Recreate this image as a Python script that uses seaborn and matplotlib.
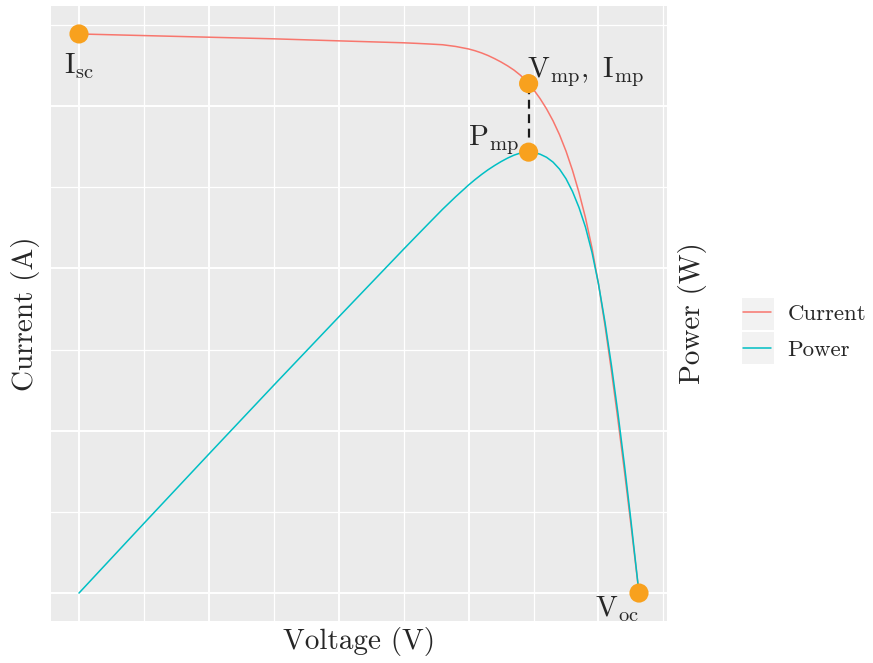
import matplotlib
matplotlib.use("Agg")
import matplotlib.pyplot as plt
import pandas as pd
import seaborn as sns
from matplotlib.patches import Rectangle

# I-V sweep of the module (voltage in V, current in A, power in W)
voltage = [0, 5, 10, 15, 20, 25, 26, 27, 28, 29, 30, 30.5, 31, 31.5, 32, 32.5,
           33, 33.5, 34, 34.62, 35, 35.5, 36, 36.5, 37, 37.5, 38, 38.5, 39,
           39.5, 40, 40.5, 41, 41.5, 42, 42.5, 43.12]
current = [6.89, 6.87, 6.85, 6.83, 6.805, 6.781, 6.774, 6.766, 6.757, 6.736,
           6.705, 6.683, 6.656, 6.624, 6.586, 6.544, 6.497, 6.444, 6.380, 6.278,
           6.205, 6.094, 5.967, 5.820, 5.648, 5.446, 5.209, 4.936, 4.624, 4.252,
           3.810, 3.298, 2.736, 2.134, 1.501, 0.839, 0.0]
power = [0, 34.35, 68.5, 102.45, 136.1, 169.53, 176.12, 182.68, 189.20, 195.34,
         201.15, 203.83, 206.34, 208.66, 210.75, 212.68, 214.40, 215.87, 216.92,
         217.34, 217.18, 216.34, 214.81, 212.43, 208.98, 204.23, 197.94, 190.04,
         180.34, 167.95, 152.40, 133.57, 112.18, 88.56, 63.04, 35.66, 0.0]
series_names = ["Current", "Power"]

# characteristic points
v_oc = 43.12
i_sc = 6.89
v_mp = 34.62
i_mp = 6.278
p_mp = 217.34
point_labels = [r"$\mathrm{I_{sc}}$", r"$\mathrm{V_{mp},\ I_{mp}}$",
                r"$\mathrm{P_{mp}}$", r"$\mathrm{V_{oc}}$"]

# power shares the current axis through a secondary scale (W per A)
power_scale = 40.0

sns.set_theme(style="darkgrid")
plt.rcParams["font.family"] = "serif"
plt.rcParams["font.serif"] = ["cmr10"]
plt.rcParams["mathtext.fontset"] = "cm"
plt.rcParams["axes.formatter.use_mathtext"] = True

n = len(voltage)
df = pd.DataFrame({
    "Voltage": voltage + voltage,
    "Value": current + [p / power_scale for p in power],
    "Quantity": [series_names[0]] * n + [series_names[1]] * n,
})

W, H = 873, 663
fig = plt.figure(figsize=(W / 100, H / 100), dpi=100)
ax = fig.add_axes([51 / W, 42 / H, 616 / W, 615 / H])
ax.set_facecolor("#EBEBEB")

palette = {series_names[0]: "#F8766D", series_names[1]: "#00BFC4"}
sns.lineplot(data=df, x="Voltage", y="Value", hue="Quantity",
             hue_order=series_names, palette=palette, linewidth=1.1,
             estimator=None, sort=False, ax=ax, zorder=3)

# dashed link between the maximum power point on both curves
ax.plot([v_mp, v_mp], [p_mp / power_scale, i_mp], color="#1A1A1A",
        linewidth=1.6, linestyle=(0, (4, 2.5)), zorder=4)

px = [0, v_mp, v_mp, v_oc]
py = [i_sc, i_mp, p_mp / power_scale, 0]
sns.scatterplot(x=px, y=py, color="#F8A11E", s=190, edgecolor="none",
                zorder=5, legend=False, ax=ax)

label_fs = 21
ax.annotate(point_labels[0], (px[0], py[0]), xytext=(0, -13),
            textcoords="offset points", ha="center", va="top", fontsize=label_fs)
ax.annotate(point_labels[1], (px[1], py[1]), xytext=(-1, 5),
            textcoords="offset points", ha="left", va="baseline", fontsize=label_fs)
ax.annotate(point_labels[2], (px[2], py[2]), xytext=(-7, 5),
            textcoords="offset points", ha="right", va="baseline", fontsize=label_fs)
ax.annotate(point_labels[3], (px[3], py[3]), xytext=(0, -1),
            textcoords="offset points", ha="right", va="top", fontsize=label_fs)

xpad = 0.05 * v_oc
ypad = 0.05 * i_sc
ax.set_xlim(-xpad, v_oc + xpad)
ax.set_ylim(-ypad, i_sc + ypad)

ax.set_xticks([0, 10, 20, 30, 40])
ax.set_xticks([5, 15, 25, 35, 45], minor=True)
ax.set_yticks([0, 2, 4, 6])
ax.set_yticks([1, 3, 5, 7], minor=True)
ax.grid(False)
ax.grid(which="major", color="white", linewidth=1.4)
ax.grid(which="minor", color="white", linewidth=0.9)
ax.tick_params(which="both", length=0, labelbottom=False, labelleft=False)
for s in ax.spines.values():
    s.set_visible(False)

ax.set_xlabel("Voltage (V)", fontsize=21, labelpad=4)
ax.set_ylabel("Current (A)", fontsize=21, labelpad=8)

# secondary power axis (label only)
ax2 = ax.twinx()
ax2.set_ylim(-ypad * power_scale, (i_sc + ypad) * power_scale)
ax2.grid(False)
ax2.tick_params(which="both", length=0, labelright=False)
for s in ax2.spines.values():
    s.set_visible(False)
ax2.set_ylabel("Power (W)", fontsize=21, labelpad=8)

handles, labels = ax.get_legend_handles_labels()
ax.legend(handles, labels, loc="center left",
          bbox_to_anchor=(743 / W, 1 - 332 / H), bbox_transform=fig.transFigure,
          frameon=False, fontsize=16.5, handlelength=1.2, handletextpad=0.75,
          labelspacing=0.68, borderpad=0, borderaxespad=0)

# grey key backgrounds
for top in (298, 332):
    fig.add_artist(Rectangle((742 / W, 1 - (top + 32) / H), 32 / W, 32 / H,
                             transform=fig.transFigure, facecolor="#F2F2F2",
                             edgecolor="none", zorder=-1))

fig.savefig("out.png", dpi=100)
